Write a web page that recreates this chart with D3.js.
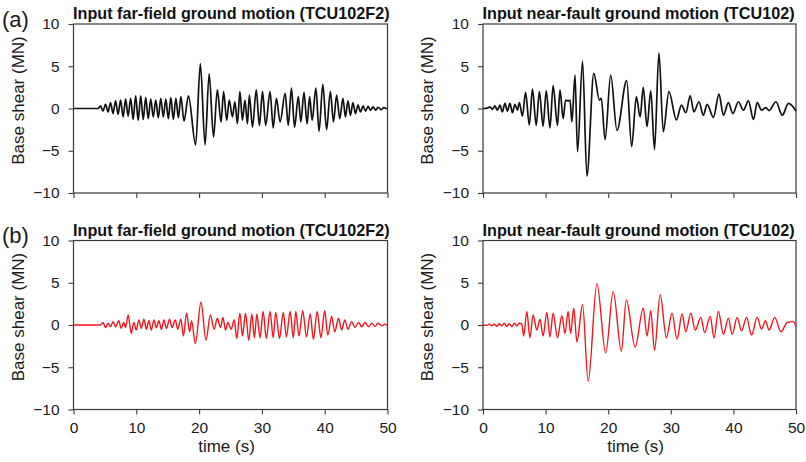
<!DOCTYPE html>
<html>
<head>
<meta charset="utf-8">
<script src="https://cdn.jsdelivr.net/npm/d3@7"></script>
<style>
  body { margin: 0; background: #fff; }
  svg { display: block; font-family: "Liberation Sans", Arial, sans-serif; }
  .tick text { font-size: 15.5px; fill: #1a1a1a; }
  .tick line { stroke: #3a3a3a; stroke-width: 1.1; }
</style>
</head>
<body>
<svg id="chart" width="806" height="462"></svg>
<script>
const timeTicks = [0, 10, 20, 30, 40, 50];
const shearTicks = [-10, -5, 0, 5, 10];
const rowLabels = ["(a)", "(b)"];
const titles = ["Input far-field ground motion (TCU102F2)", "Input near-fault ground motion (TCU102)"];

// peaks and troughs [time (s), base shear (MN)]
const farFieldInput = [
  [0,0],[3.9,0],[4.3,0.3],[4.7,-0.3],[5.1,0.5],[5.5,-0.4],[5.9,0.7],[6.3,-0.6],[6.7,0.9],[7.1,-0.7],
  [7.5,1.0],[7.9,-1.0],[8.3,1.1],[8.7,-0.9],[9.1,1.2],[9.5,-1.3],[9.9,1.5],[10.3,-1.4],[10.7,1.5],
  [11.1,-1.3],[11.5,1.3],[11.9,-1.2],[12.3,1.1],[12.7,-1.0],[13.1,1.0],[13.5,-1.1],[13.9,1.2],
  [14.3,-1.0],[14.7,1.1],[15.1,-1.2],[15.5,1.3],[15.9,-1.3],[16.3,1.2],[16.7,-1.1],[17.1,1.4],
  [17.6,-1.5],[18.3,1.5],[19.45,-4.3],[20.2,5.3],[20.95,-4.3],[21.6,4.1],[22.3,-3.4],[22.9,2.2],
  [23.5,-1.6],[23.9,2.0],[24.4,-1.4],[24.8,1.0],[25.3,-1.0],[25.7,0.8],[26.1,-1.8],[26.5,2.0],
  [26.9,-1.4],[27.3,1.0],[27.7,-1.8],[28.0,1.6],[28.5,-2.2],[29.1,2.2],[29.6,-2.0],[30.1,2.0],
  [30.6,-2.0],[31.3,2.0],[31.8,-2.3],[32.3,1.2],[32.9,-1.6],[33.7,1.8],[34.2,-2.0],[34.7,2.4],
  [35.2,-2.2],[35.8,1.4],[36.2,-1.6],[36.7,1.9],[37.2,-1.8],[37.6,1.4],[38.0,-1.4],[38.6,2.4],
  [39.1,-2.7],[39.7,2.85],[40.3,-2.5],[40.9,2.0],[41.4,-1.6],[41.9,1.6],[42.4,-1.2],[42.9,1.2],
  [43.3,-1.0],[43.7,0.9],[44.1,-0.8],[44.5,0.7],[44.9,-0.6],[45.3,0.4],[45.7,-0.4],[46.1,0.3],
  [46.5,-0.3],[46.9,0.25],[47.3,-0.2],[47.7,0.2],[48.1,-0.2],[48.5,0.15],[49.0,-0.15],[49.4,0.1],
  [49.8,0],[50,0]
];

const nearFaultInput = [
  [0,0],[0.7,0.05],[1.1,0.2],[1.5,-0.1],[1.9,0.3],[2.3,-0.2],[2.7,0.4],[3.1,-0.4],[3.5,0.6],
  [3.9,-0.3],[4.3,0.6],[4.7,-0.5],[5.1,0.5],[5.5,-0.2],[5.8,0.7],[6.3,-0.9],[6.8,1.9],[7.4,-1.95],
  [7.9,2.3],[8.5,-2.0],[9.0,2.0],[9.6,-2.1],[10.1,2.1],[10.7,-2.3],[11.2,2.7],[11.9,-2.0],
  [12.3,2.2],[12.8,-1.2],[13.2,1.0],[13.6,0.9],[13.9,1.0],[14.2,-1.6],[14.7,3.95],[15.1,-5.1],
  [15.9,5.6],[16.6,-8.0],[17.7,4.15],[18.6,1.0],[18.9,1.2],[19.5,-3.7],[20.4,3.95],[21.4,-2.6],
  [22.95,3.3],[23.75,-4.5],[24.5,1.4],[25.1,-1.0],[25.6,2.5],[26.2,-2.15],[26.8,2.1],[27.4,-4.85],
  [28.1,6.6],[28.8,-2.75],[29.7,2.0],[30.9,-1.35],[31.7,0.4],[32.4,-0.5],[33.1,1.5],[33.7,-0.4],
  [34.5,0.8],[35.2,-0.8],[35.8,0.5],[36.8,-1.05],[37.7,1.7],[38.4,-0.8],[39.2,0.7],[39.9,-0.6],
  [40.8,0.8],[41.6,-0.2],[42.4,0.9],[43.2,-1.3],[43.8,0.7],[44.5,-0.2],[45.2,0.1],[45.7,-0.25],
  [46.8,0.8],[47.8,-0.8],[48.8,0.6],[50,-0.3]
];

const farFieldResponse = [
  [0,0],[4.3,0],[4.7,0.3],[5.1,-0.3],[5.5,0.2],[5.9,-0.2],[6.3,0.4],[6.7,-0.2],[7.2,0.5],[7.6,-0.4],
  [8.0,0.3],[8.3,-0.3],[8.7,1.2],[9.2,-1.0],[9.6,0.3],[10.0,-0.6],[10.4,0.6],[10.8,-0.4],[11.2,0.7],
  [11.6,-0.5],[12.0,0.5],[12.4,-0.6],[12.8,0.6],[13.2,-0.3],[13.6,0.5],[14.0,-0.5],[14.4,0.6],
  [14.8,-0.4],[15.3,0.7],[15.7,-0.3],[16.2,0.6],[16.6,-0.5],[17.1,0.7],[17.5,-1.3],[18.0,1.4],
  [18.5,-0.8],[18.8,0.5],[19.4,-2.2],[20.3,2.7],[21.1,-1.8],[21.8,1.2],[22.4,-0.5],[22.9,0.8],
  [23.4,-0.3],[23.8,0.9],[24.2,-0.6],[24.6,0.3],[25.1,-0.5],[25.6,0.6],[26.0,-1.6],[26.5,1.4],
  [26.9,-1.3],[27.4,1.4],[27.9,-1.8],[28.4,1.3],[28.8,-1.5],[29.2,1.3],[29.7,-1.5],[30.2,1.6],
  [30.7,-1.6],[31.3,1.6],[31.8,-1.5],[32.2,1.5],[32.8,-1.6],[33.4,1.5],[33.9,-1.4],[34.5,1.6],
  [35.0,-1.5],[35.4,1.6],[35.9,-1.3],[36.5,1.7],[37.1,-1.4],[37.7,1.3],[38.2,-1.7],[38.8,1.6],
  [39.4,-1.5],[40.0,1.7],[40.5,-1.2],[41.1,1.0],[41.6,-0.8],[42.2,0.8],[42.7,-0.6],[43.2,0.6],
  [43.7,-0.5],[44.3,0.4],[44.8,-0.3],[45.4,0.3],[45.9,-0.2],[46.4,0.3],[47.0,-0.2],[47.5,0.2],
  [48.0,-0.15],[48.5,0.2],[49.1,-0.1],[49.6,0.1],[50,-0.1]
];

const nearFaultResponse = [
  [0,0],[0.6,-0.05],[1.0,0.1],[1.4,-0.1],[1.8,0.1],[2.2,-0.15],[2.6,0.15],[3.0,-0.1],[3.4,0.2],
  [3.8,-0.15],[4.2,0.15],[4.6,-0.2],[5.0,0.2],[5.4,-0.1],[5.8,0.2],[6.2,0.1],[6.5,-1.3],[7.0,1.6],
  [7.5,-1.5],[8.0,1.2],[8.6,-0.6],[9.1,0.7],[9.6,-1.3],[10.2,1.5],[10.7,-1.4],[11.2,1.4],[11.9,-1.5],
  [12.6,1.1],[13.1,-1.0],[13.6,1.6],[14.0,-1.0],[14.5,2.0],[15.0,-2.0],[15.9,2.4],[16.8,-6.65],
  [18.2,4.9],[19.6,-3.3],[20.8,3.95],[22.1,-3.1],[22.9,2.95],[24.3,-2.6],[25.6,2.0],[26.2,-1.3],
  [26.8,1.7],[27.4,-3.0],[28.3,3.6],[29.3,-1.5],[30.2,1.4],[31.0,-1.7],[31.8,1.3],[32.4,-0.8],
  [33.2,1.4],[33.9,-0.6],[34.8,0.9],[35.4,-0.9],[36.3,1.0],[36.9,-1.5],[37.6,1.6],[38.4,-1.1],
  [39.2,0.8],[39.8,-1.1],[40.6,0.9],[41.3,-0.7],[42.1,0.9],[42.9,-1.2],[43.8,0.9],[44.5,-0.5],
  [45.1,0.5],[45.7,-0.6],[46.6,0.9],[47.6,-0.8],[48.6,0.3],[49.6,0.4],[50,-0.2]
];

const panels = [
  {data: farFieldInput, row: 0, col: 0, color: "#111", lw: 1.7},
  {data: nearFaultInput, row: 0, col: 1, color: "#111", lw: 1.7},
  {data: farFieldResponse, row: 1, col: 0, color: "#f2161c", lw: 1.4},
  {data: nearFaultResponse, row: 1, col: 1, color: "#f2161c", lw: 1.4}
];

const cols = [{left: 73.5, right: 387.5}, {left: 483, right: 796}];
const rows = [{top: 24, bottom: 193}, {top: 240.5, bottom: 409.5}];
const frameColor = "#3a3a3a";

const svg = d3.select("#chart");

panels.forEach(p => {
  const c = cols[p.col], r = rows[p.row];
  const x = d3.scaleLinear().domain([0, 50]).range([c.left, c.right]);
  const y = d3.scaleLinear().domain([-10, 10]).range([r.bottom, r.top]);
  const g = svg.append("g");

  g.append("g")
    .attr("transform", `translate(${c.left},0)`)
    .call(d3.axisLeft(y).tickValues(shearTicks).tickSize(5).tickPadding(9))
    .call(a => a.select(".domain").remove());

  g.append("g")
    .attr("transform", `translate(0,${r.bottom})`)
    .call(d3.axisBottom(x).tickValues(timeTicks).tickSize(5).tickPadding(7)
      .tickFormat(d => p.row === 1 ? d : ""))
    .call(a => a.select(".domain").remove());

  g.append("rect")
    .attr("x", c.left).attr("y", r.top)
    .attr("width", c.right - c.left).attr("height", r.bottom - r.top)
    .attr("fill", "none").attr("stroke", frameColor).attr("stroke-width", 1.2);

  const line = d3.line()
    .x(d => x(d[0]))
    .y(d => y(d[1]))
    .curve(d3.curveMonotoneX);

  g.append("path")
    .datum(p.data)
    .attr("fill", "none")
    .attr("stroke", p.color)
    .attr("stroke-width", p.lw)
    .attr("stroke-linejoin", "round")
    .attr("d", line);

  g.append("text")
    .attr("x", c.left - 0.5).attr("y", r.top - 5)
    .attr("font-size", "16.2px").attr("font-weight", "bold").attr("fill", "#111")
    .text(titles[p.col]);

  g.append("text")
    .attr("transform", `translate(${c.left - 50},${(r.top + r.bottom) / 2 - 8}) rotate(-90)`)
    .attr("text-anchor", "middle")
    .attr("font-size", "17px").attr("fill", "#1a1a1a")
    .text("Base shear (MN)");

  if (p.row === 1) {
    g.append("text")
      .attr("x", (c.left + c.right) / 2 - 4).attr("y", 452)
      .attr("text-anchor", "middle")
      .attr("font-size", "17px").attr("fill", "#1a1a1a")
      .text("time (s)");
  }
});

rowLabels.forEach((lab, i) => {
  svg.append("text")
    .attr("x", 2).attr("y", rows[i].top + 2.5)
    .attr("font-size", "22px").attr("fill", "#1a1a1a")
    .text(lab);
});
</script>
</body>
</html>
